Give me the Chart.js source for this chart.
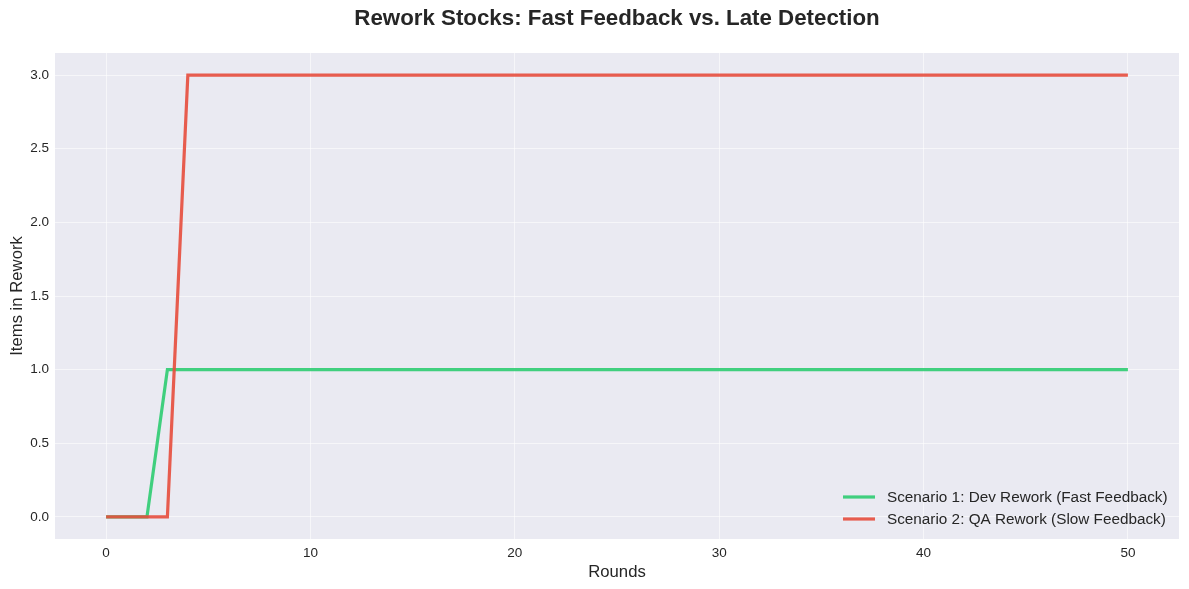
<!DOCTYPE html>
<html>
<head>
<meta charset="utf-8">
<script src="https://cdn.jsdelivr.net/npm/chart.js@4.4.1/dist/chart.umd.min.js"></script>
<style>
html,body{margin:0;padding:0;background:#fff;}
#wrap{width:1189px;height:589px;position:relative;}
</style>
</head>
<body>
<div id="wrap"><canvas id="c" width="1189" height="589"></canvas></div>
<script>
const rounds = Array.from({length: 51}, (_, i) => i);
const devRework = [0,0,0,1,1,1,1,1,1,1, 1,1,1,1,1,1,1,1,1,1, 1,1,1,1,1,1,1,1,1,1, 1,1,1,1,1,1,1,1,1,1, 1,1,1,1,1,1,1,1,1,1, 1];
const qaRework  = [0,0,0,0,3,3,3,3,3,3, 3,3,3,3,3,3,3,3,3,3, 3,3,3,3,3,3,3,3,3,3, 3,3,3,3,3,3,3,3,3,3, 3,3,3,3,3,3,3,3,3,3, 3];
const xTicks = [0,10,20,30,40,50];
const yTicks = [0,0.5,1,1.5,2,2.5,3];
const titleText = 'Rework Stocks: Fast Feedback vs. Late Detection';
const seriesLabels = ['Scenario 1: Dev Rework (Fast Feedback)', 'Scenario 2: QA Rework (Slow Feedback)'];
const seriesColors = ['rgba(46,204,113,0.9)', 'rgba(231,76,60,0.9)'];

const FONT = '"Liberation Sans", Arial, sans-serif';

const bgPlugin = {
  id: 'bg',
  beforeDraw(chart) {
    const {ctx, chartArea: a} = chart;
    ctx.save();
    ctx.fillStyle = '#EAEAF2';
    ctx.fillRect(a.left, a.top, a.right - a.left, a.bottom - a.top);
    ctx.restore();
  },
  afterDraw(chart) {
    const {ctx, chartArea: a} = chart;
    ctx.save();
    ctx.fillStyle = '#262626';
    ctx.font = 'bold 22.3px ' + FONT;
    ctx.textAlign = 'center';
    ctx.textBaseline = 'middle';
    ctx.fillText(titleText, (a.left + a.right) / 2, 19);
    ctx.font = '15.3px ' + FONT;
    ctx.textAlign = 'left';
    const rows = [497, 519];
    rows.forEach((y, i) => {
      ctx.strokeStyle = seriesColors[i];
      ctx.lineWidth = 3.2;
      ctx.beginPath();
      ctx.moveTo(843, y);
      ctx.lineTo(875, y);
      ctx.stroke();
      ctx.fillStyle = '#262626';
      ctx.fillText(seriesLabels[i], 887, y + 0.5);
    });
    ctx.restore();
  }
};

new Chart(document.getElementById('c'), {
  type: 'line',
  data: {
    labels: rounds,
    datasets: [
      {label: seriesLabels[0], order: 1, data: rounds.map((r, i) => ({x: r, y: devRework[i]})), borderColor: seriesColors[0], borderWidth: 3.2, pointRadius: 0, tension: 0, fill: false},
      {label: seriesLabels[1], order: 0, data: rounds.map((r, i) => ({x: r, y: qaRework[i]})), borderColor: seriesColors[1], borderWidth: 3.2, pointRadius: 0, tension: 0, fill: false}
    ]
  },
  options: {
    responsive: false,
    animation: false,
    devicePixelRatio: 1,
    layout: {padding: {top: 53, right: 10, left: 0, bottom: 0}},
    plugins: {legend: {display: false}, title: {display: false}, tooltip: {enabled: false}},
    scales: {
      x: {
        type: 'linear',
        min: -2.5, max: 52.5,
        afterBuildTicks(s) { s.ticks = xTicks.map(v => ({value: v})); },
        afterFit(s) { s.height = 50; },
        grid: {color: 'rgba(255,255,255,0.55)', lineWidth: 1, drawTicks: false},
        border: {display: false},
        ticks: {color: '#262626', font: {family: FONT, size: 13.5}, padding: 6, maxRotation: 0, callback: v => String(v)},
        title: {display: true, text: 'Rounds', color: '#262626', font: {family: FONT, size: 16.7}, padding: {top: 0, bottom: 7}}
      },
      y: {
        min: -0.15, max: 3.15,
        afterBuildTicks(s) { s.ticks = yTicks.map(v => ({value: v})); },
        afterFit(s) { s.width = 55; },
        grid: {color: 'rgba(255,255,255,0.55)', lineWidth: 1, drawTicks: false},
        border: {display: false},
        ticks: {color: '#262626', font: {family: FONT, size: 13.5}, padding: 6, callback: v => v.toFixed(1)},
        title: {display: true, text: 'Items in Rework', color: '#262626', font: {family: FONT, size: 16.7}, padding: {top: 7, bottom: 4}}
      }
    }
  },
  plugins: [bgPlugin]
});
</script>
</body>
</html>
